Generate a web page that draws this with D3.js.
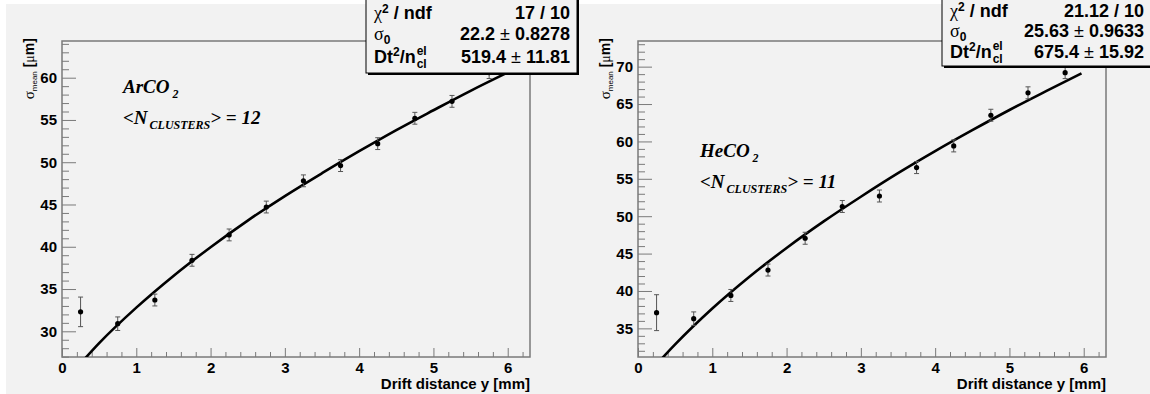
<!DOCTYPE html>
<html>
<head>
<meta charset="utf-8">
<title>sigma mean vs drift distance</title>
<script src="https://d3js.org/d3.v7.min.js"></script>
<style>
  body { margin: 0; background: #fff; }
</style>
</head>
<body>
<div id="chart"></div>
<script>
// drift distance of the points [mm]
const driftY = [0.25, 0.75, 1.25, 1.75, 2.25, 2.75, 3.25, 3.75, 4.25, 4.75, 5.25, 5.75];

// ArCO2 points and fit curve
const sigmaAr = [32.3, 30.9, 33.7, 38.4, 41.4, 44.7, 47.8, 49.6, 52.2, 55.2, 57.2, 60.6];
const errAr   = [1.75, 0.8, 0.7, 0.7, 0.7, 0.7, 0.7, 0.7, 0.7, 0.7, 0.7, 0.7];
const fitXAr  = [0.25, 0.5, 1, 1.5, 2, 2.5, 3, 3.5, 4, 4.5, 5, 5.5, 5.96];
const fitAr   = [26.2, 28.6, 32.8, 36.55, 39.95, 43.1, 46.0, 48.7, 51.3, 53.8, 56.15, 58.45, 60.45];

// HeCO2 points and fit curve
const sigmaHe = [37.1, 36.3, 39.4, 42.8, 47.05, 51.3, 52.7, 56.5, 59.4, 63.5, 66.5, 69.2];
const errHe   = [2.4, 0.9, 0.8, 0.8, 0.8, 0.8, 0.8, 0.8, 0.8, 0.8, 0.8, 0.8];
const fitXHe  = [0.25, 0.5, 1, 1.5, 2, 2.5, 3, 3.5, 4, 4.5, 5, 5.5, 5.97];
const fitHe   = [30.2, 32.85, 37.65, 41.9, 45.75, 49.3, 52.6, 55.75, 58.7, 61.5, 64.2, 66.75, 69.1];

// axis ticks
const xTicks   = [0, 1, 2, 3, 4, 5, 6];
const yTicksAr = [30, 35, 40, 45, 50, 55, 60];
const yTicksHe = [35, 40, 45, 50, 55, 60, 65, 70];

// fit box texts
const statAr = {chi: "17 / 10", s0: "22.2", s0err: "0.8278", dt: "519.4", dterr: "11.81"};
const statHe = {chi: "21.12 / 10", s0: "25.63", s0err: "0.9633", dt: "675.4", dterr: "15.92"};

const W = 1150, H = 394;
const frameTop = 41, frameBottom = 357;
const SANS = "Liberation Sans, Arial, sans-serif";
const SERIF = "Liberation Serif, Times New Roman, serif";

const svg = d3.select("#chart").append("svg")
    .attr("width", W).attr("height", H)
    .attr("font-family", SANS);

svg.append("rect").attr("width", W).attr("height", H).attr("fill", "#fff");
svg.append("rect").attr("x", 6).attr("y", 4).attr("width", W - 6).attr("height", H - 4)
    .attr("fill", "#f2f2f2");

function drawPanel(p) {
    let g = svg.append("g");

    let x = d3.scaleLinear().domain([0, 6.3]).range([p.left, p.right]);
    let y = d3.scaleLinear().domain(p.yDomain).range([frameBottom, frameTop]);

    let clipId = "clip" + p.id;
    svg.append("clipPath").attr("id", clipId)
        .append("rect")
        .attr("x", p.left).attr("y", frameTop)
        .attr("width", p.right - p.left).attr("height", frameBottom - frameTop);

    // minor ticks
    let xMinor = d3.range(0, 6.3, 0.2).filter(v => Math.abs(v - Math.round(v)) > 0.01);
    let yMinor = d3.range(Math.ceil(p.yDomain[0]), p.yDomain[1], 1).filter(v => v % 5 != 0);

    g.append("g")
        .attr("transform", "translate(0," + frameBottom + ")")
        .call(d3.axisBottom(x).tickValues(xMinor).tickSize(-5).tickFormat(""));
    g.append("g")
        .attr("transform", "translate(" + p.left + ",0)")
        .call(d3.axisLeft(y).tickValues(yMinor).tickSize(-7).tickFormat(""));

    // major ticks + labels
    g.append("g")
        .attr("transform", "translate(0," + frameBottom + ")")
        .call(d3.axisBottom(x).tickValues(xTicks).tickSize(-9).tickPadding(5).tickFormat(d3.format("d")));
    g.append("g")
        .attr("transform", "translate(" + p.left + ",0)")
        .call(d3.axisLeft(y).tickValues(p.yTicks).tickSize(-14).tickPadding(5).tickFormat(d3.format("d")));

    g.selectAll(".domain").remove();
    g.selectAll(".tick line").attr("stroke", "#7a7a7a").attr("stroke-width", 1);
    g.selectAll(".tick text")
        .attr("font-family", SANS)
        .attr("font-weight", "bold")
        .attr("font-size", "15px")
        .attr("fill", "#000");

    // frame
    g.append("rect")
        .attr("x", p.left).attr("y", frameTop)
        .attr("width", p.right - p.left).attr("height", frameBottom - frameTop)
        .attr("fill", "none").attr("stroke", "#7a7a7a").attr("stroke-width", 1.5);

    // x title
    g.append("text")
        .attr("x", p.right).attr("y", 389)
        .attr("text-anchor", "end")
        .attr("font-weight", "bold").attr("font-size", "15px")
        .text("Drift distance y [mm]");

    // y title
    let yt = g.append("text")
        .attr("transform", "translate(" + (p.left - 28) + ",38) rotate(-90)")
        .attr("text-anchor", "end")
        .attr("font-size", "14px").attr("font-weight", "bold");
    yt.append("tspan").attr("font-family", SERIF).attr("font-weight", "normal").attr("font-size", "15px").text("σ");
    yt.append("tspan").attr("font-size", "8px").attr("font-weight", "normal").attr("dy", 3).text("mean");
    yt.append("tspan").attr("dy", -3).text(" [");
    yt.append("tspan").attr("font-family", SERIF).attr("font-weight", "normal").text("μ");
    yt.append("tspan").text("m]");

    // fit curve
    let line = d3.line()
        .x(d => x(d[0]))
        .y(d => y(d[1]))
        .curve(d3.curveMonotoneX);
    g.append("path")
        .datum(p.fitX.map((v, i) => [v, p.fit[i]]))
        .attr("clip-path", "url(#" + clipId + ")")
        .attr("d", line)
        .attr("fill", "none").attr("stroke", "#000").attr("stroke-width", 2.6);

    // error bars
    let pts = driftY.map((v, i) => ({x: v, y: p.sigma[i], e: p.err[i]}));
    let eb = g.append("g").attr("stroke", "#555").attr("stroke-width", 1);
    eb.selectAll("line.bar").data(pts).enter().append("line")
        .attr("x1", d => x(d.x)).attr("x2", d => x(d.x))
        .attr("y1", d => y(d.y - d.e)).attr("y2", d => y(d.y + d.e));
    eb.selectAll("line.top").data(pts).enter().append("line")
        .attr("x1", d => x(d.x) - 2.5).attr("x2", d => x(d.x) + 2.5)
        .attr("y1", d => y(d.y + d.e)).attr("y2", d => y(d.y + d.e));
    eb.selectAll("line.bot").data(pts).enter().append("line")
        .attr("x1", d => x(d.x) - 2.5).attr("x2", d => x(d.x) + 2.5)
        .attr("y1", d => y(d.y - d.e)).attr("y2", d => y(d.y - d.e));

    g.selectAll("circle").data(pts).enter().append("circle")
        .attr("cx", d => x(d.x)).attr("cy", d => y(d.y))
        .attr("r", 2.6).attr("fill", "#000");

    // gas label
    let lab = g.append("text")
        .attr("x", p.labelX).attr("y", p.labelY)
        .attr("font-family", SERIF)
        .attr("font-style", "italic").attr("font-weight", "bold")
        .attr("font-size", "19px");
    lab.append("tspan").text(p.gas);
    lab.append("tspan").attr("font-size", "12px").attr("dy", 5).attr("dx", 3).text("2");

    let nc = g.append("text")
        .attr("x", p.labelX).attr("y", p.labelY + 31)
        .attr("font-family", SERIF)
        .attr("font-style", "italic").attr("font-weight", "bold")
        .attr("font-size", "19px");
    nc.append("tspan").text("<N");
    nc.append("tspan").attr("font-size", "12px").attr("dy", 5).attr("dx", 2).text("CLUSTERS");
    nc.append("tspan").attr("dy", -5).text("> = " + p.ncl);

    // fit box
    let b = p.box;
    g.append("rect")
        .attr("x", b.x0 + 2).attr("y", -10)
        .attr("width", b.x1 - b.x0).attr("height", b.bottom + 12)
        .attr("fill", "#000");
    g.append("rect")
        .attr("x", b.x0).attr("y", -10)
        .attr("width", b.x1 - b.x0).attr("height", b.bottom + 10)
        .attr("fill", "#f2f2f2").attr("stroke", "#000").attr("stroke-width", 1);

    let tx = b.x0 + 8, vx = b.vx;
    let r = b.rows;
    let fs = "18px";
    let t1 = g.append("text").attr("x", tx).attr("y", r[0]).attr("font-size", fs).attr("font-weight", "bold");
    t1.append("tspan").attr("font-family", SERIF).attr("font-weight", "normal").text("χ");
    t1.append("tspan").attr("font-size", "12px").attr("dy", -6).text("2");
    t1.append("tspan").attr("dy", 6).text(" / ndf");

    let t2 = g.append("text").attr("x", tx).attr("y", r[1]).attr("font-size", fs);
    t2.append("tspan").attr("font-family", SERIF).text("σ");
    t2.append("tspan").attr("font-size", "12px").attr("font-weight", "bold").attr("dy", 4).text("0");

    let t3 = g.append("text").attr("x", tx).attr("y", r[2]).attr("font-size", fs).attr("font-weight", "bold");
    t3.append("tspan").text("Dt");
    t3.append("tspan").attr("font-size", "12px").attr("dy", -7).text("2");
    t3.append("tspan").attr("dy", 7).text("/n");
    let nEnd = tx + t3.node().getComputedTextLength() + 1;
    g.append("text").attr("x", nEnd).attr("y", r[2] - 8)
        .attr("font-size", "12px").attr("font-weight", "bold").text("el");
    g.append("text").attr("x", nEnd).attr("y", r[2] + 5)
        .attr("font-size", "12px").attr("font-weight", "bold").text("cl");

    g.append("text").attr("x", vx).attr("y", r[0]).attr("text-anchor", "end")
        .attr("font-size", fs).attr("font-weight", "bold").text(p.stat.chi);
    let v2 = g.append("text").attr("x", vx).attr("y", r[1]).attr("text-anchor", "end")
        .attr("font-size", fs).attr("font-weight", "bold");
    v2.append("tspan").text(p.stat.s0);
    v2.append("tspan").attr("font-weight", "normal").text(" ± ");
    v2.append("tspan").text(p.stat.s0err);
    let v3 = g.append("text").attr("x", vx).attr("y", r[2]).attr("text-anchor", "end")
        .attr("font-size", fs).attr("font-weight", "bold");
    v3.append("tspan").text(p.stat.dt);
    v3.append("tspan").attr("font-weight", "normal").text(" ± ");
    v3.append("tspan").text(p.stat.dterr);
}

drawPanel({
    id: "ar", left: 62, right: 530, yDomain: [26.96, 64.34], yTicks: yTicksAr,
    sigma: sigmaAr, err: errAr, fitX: fitXAr, fit: fitAr,
    gas: "ArCO", ncl: "12", labelX: 123, labelY: 93,
    stat: statAr,
    box: {x0: 366, x1: 577, vx: 570, bottom: 73, rows: [19, 40, 63]}
});

drawPanel({
    id: "he", left: 638, right: 1106, yDomain: [31.17, 73.43], yTicks: yTicksHe,
    sigma: sigmaHe, err: errHe, fitX: fitXHe, fit: fitHe,
    gas: "HeCO", ncl: "11", labelX: 700, labelY: 157,
    stat: statHe,
    box: {x0: 942, x1: 1160, vx: 1144, bottom: 66, rows: [17, 37, 58]}
});
</script>
</body>
</html>
